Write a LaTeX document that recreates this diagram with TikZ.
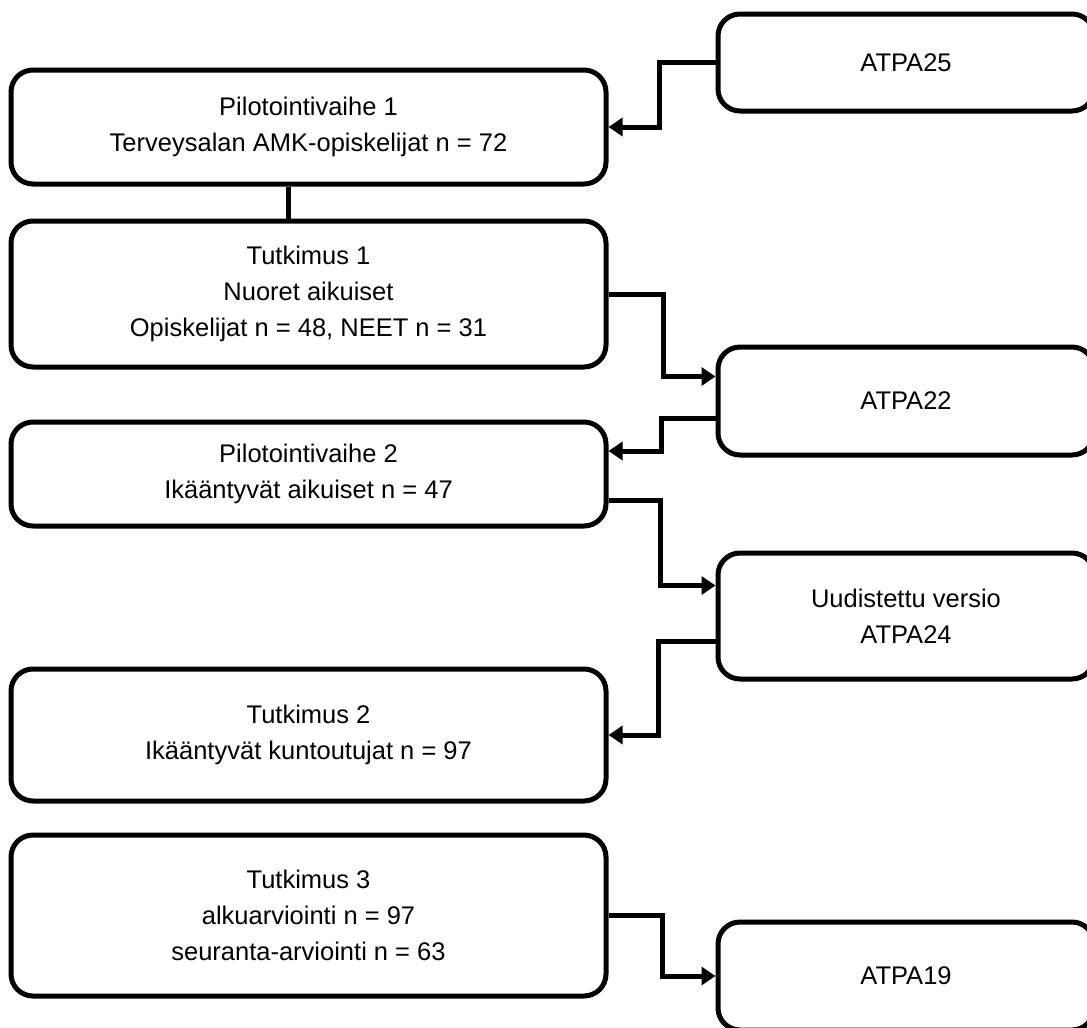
\documentclass[tikz,border=0pt]{standalone}
\usepackage{fontspec}
\setmainfont{Liberation Sans}
\usetikzlibrary{arrows.meta}
\begin{document}
\begin{tikzpicture}[x=1pt,y=-1pt,
  box/.style={draw=black, line width=5pt, rounded corners=22pt, align=center,
    inner sep=0pt, font=\fontsize{25.5}{36}\selectfont},
  lbox/.style={box, minimum width=595pt},
  rbox/.style={box, minimum width=376pt},
  conn/.style={draw=black, line width=5pt},
  arr/.style={conn, -{Triangle[length=14pt,width=18pt]}}]
\useasboundingbox (0,0) rectangle (1087,1028);
\clip (0,0) rectangle (1087,1028);
\fill[white] (0,0) rectangle (1087,1028);

% left boxes
\node[lbox, minimum height=114pt] (p1) at (308.5,127) {Pilotointivaihe 1\\Terveysalan AMK-opiskelijat n = 72};
\node[lbox, minimum height=146pt] (t1) at (308.5,294) {Tutkimus 1\\Nuoret aikuiset\\Opiskelijat n = 48, NEET n = 31};
\node[lbox, minimum height=104pt] (p2) at (308.5,474) {Pilotointivaihe 2\\Ikääntyvät aikuiset n = 47};
\node[lbox, minimum height=132pt] (t2) at (308.5,735) {Tutkimus 2\\Ikääntyvät kuntoutujat n = 97};
\node[lbox, minimum height=161pt] (t3) at (308.5,915.5) {Tutkimus 3\\alkuarviointi n = 97\\seuranta-arviointi n = 63};

% right boxes
\node[rbox, minimum height=97pt] (a25) at (906,62.5) {ATPA25};
\node[rbox, minimum height=108pt] (a22) at (906,401) {ATPA22};
\node[rbox, minimum height=126pt] (a24) at (906,616) {Uudistettu versio\\ATPA24};
\node[rbox, minimum height=108pt] (a19) at (906,976) {ATPA19};

% connectors
\draw[arr] (a25.west) -- ++(-56,0) |- (p1.east);
\draw[conn] ([xshift=-20pt]p1.south) -- ([xshift=-20pt]t1.north);
\draw[arr] (t1.east) -- ++(55,0) |- ([yshift=24.5pt]a22.west);
\draw[arr] ([yshift=-17pt]a22.west) -- ++(-54,0) |- ([yshift=23pt]p2.east);
\draw[arr] ([yshift=-26pt]p2.east) -- ++(52,0) |- ([yshift=30.5pt]a24.west);
\draw[arr] ([yshift=-25pt]a24.west) -- ++(-57,0) |- (t2.east);
\draw[arr] (t3.east) -- ++(54,0) |- (a19.west);
\end{tikzpicture}
\end{document}
